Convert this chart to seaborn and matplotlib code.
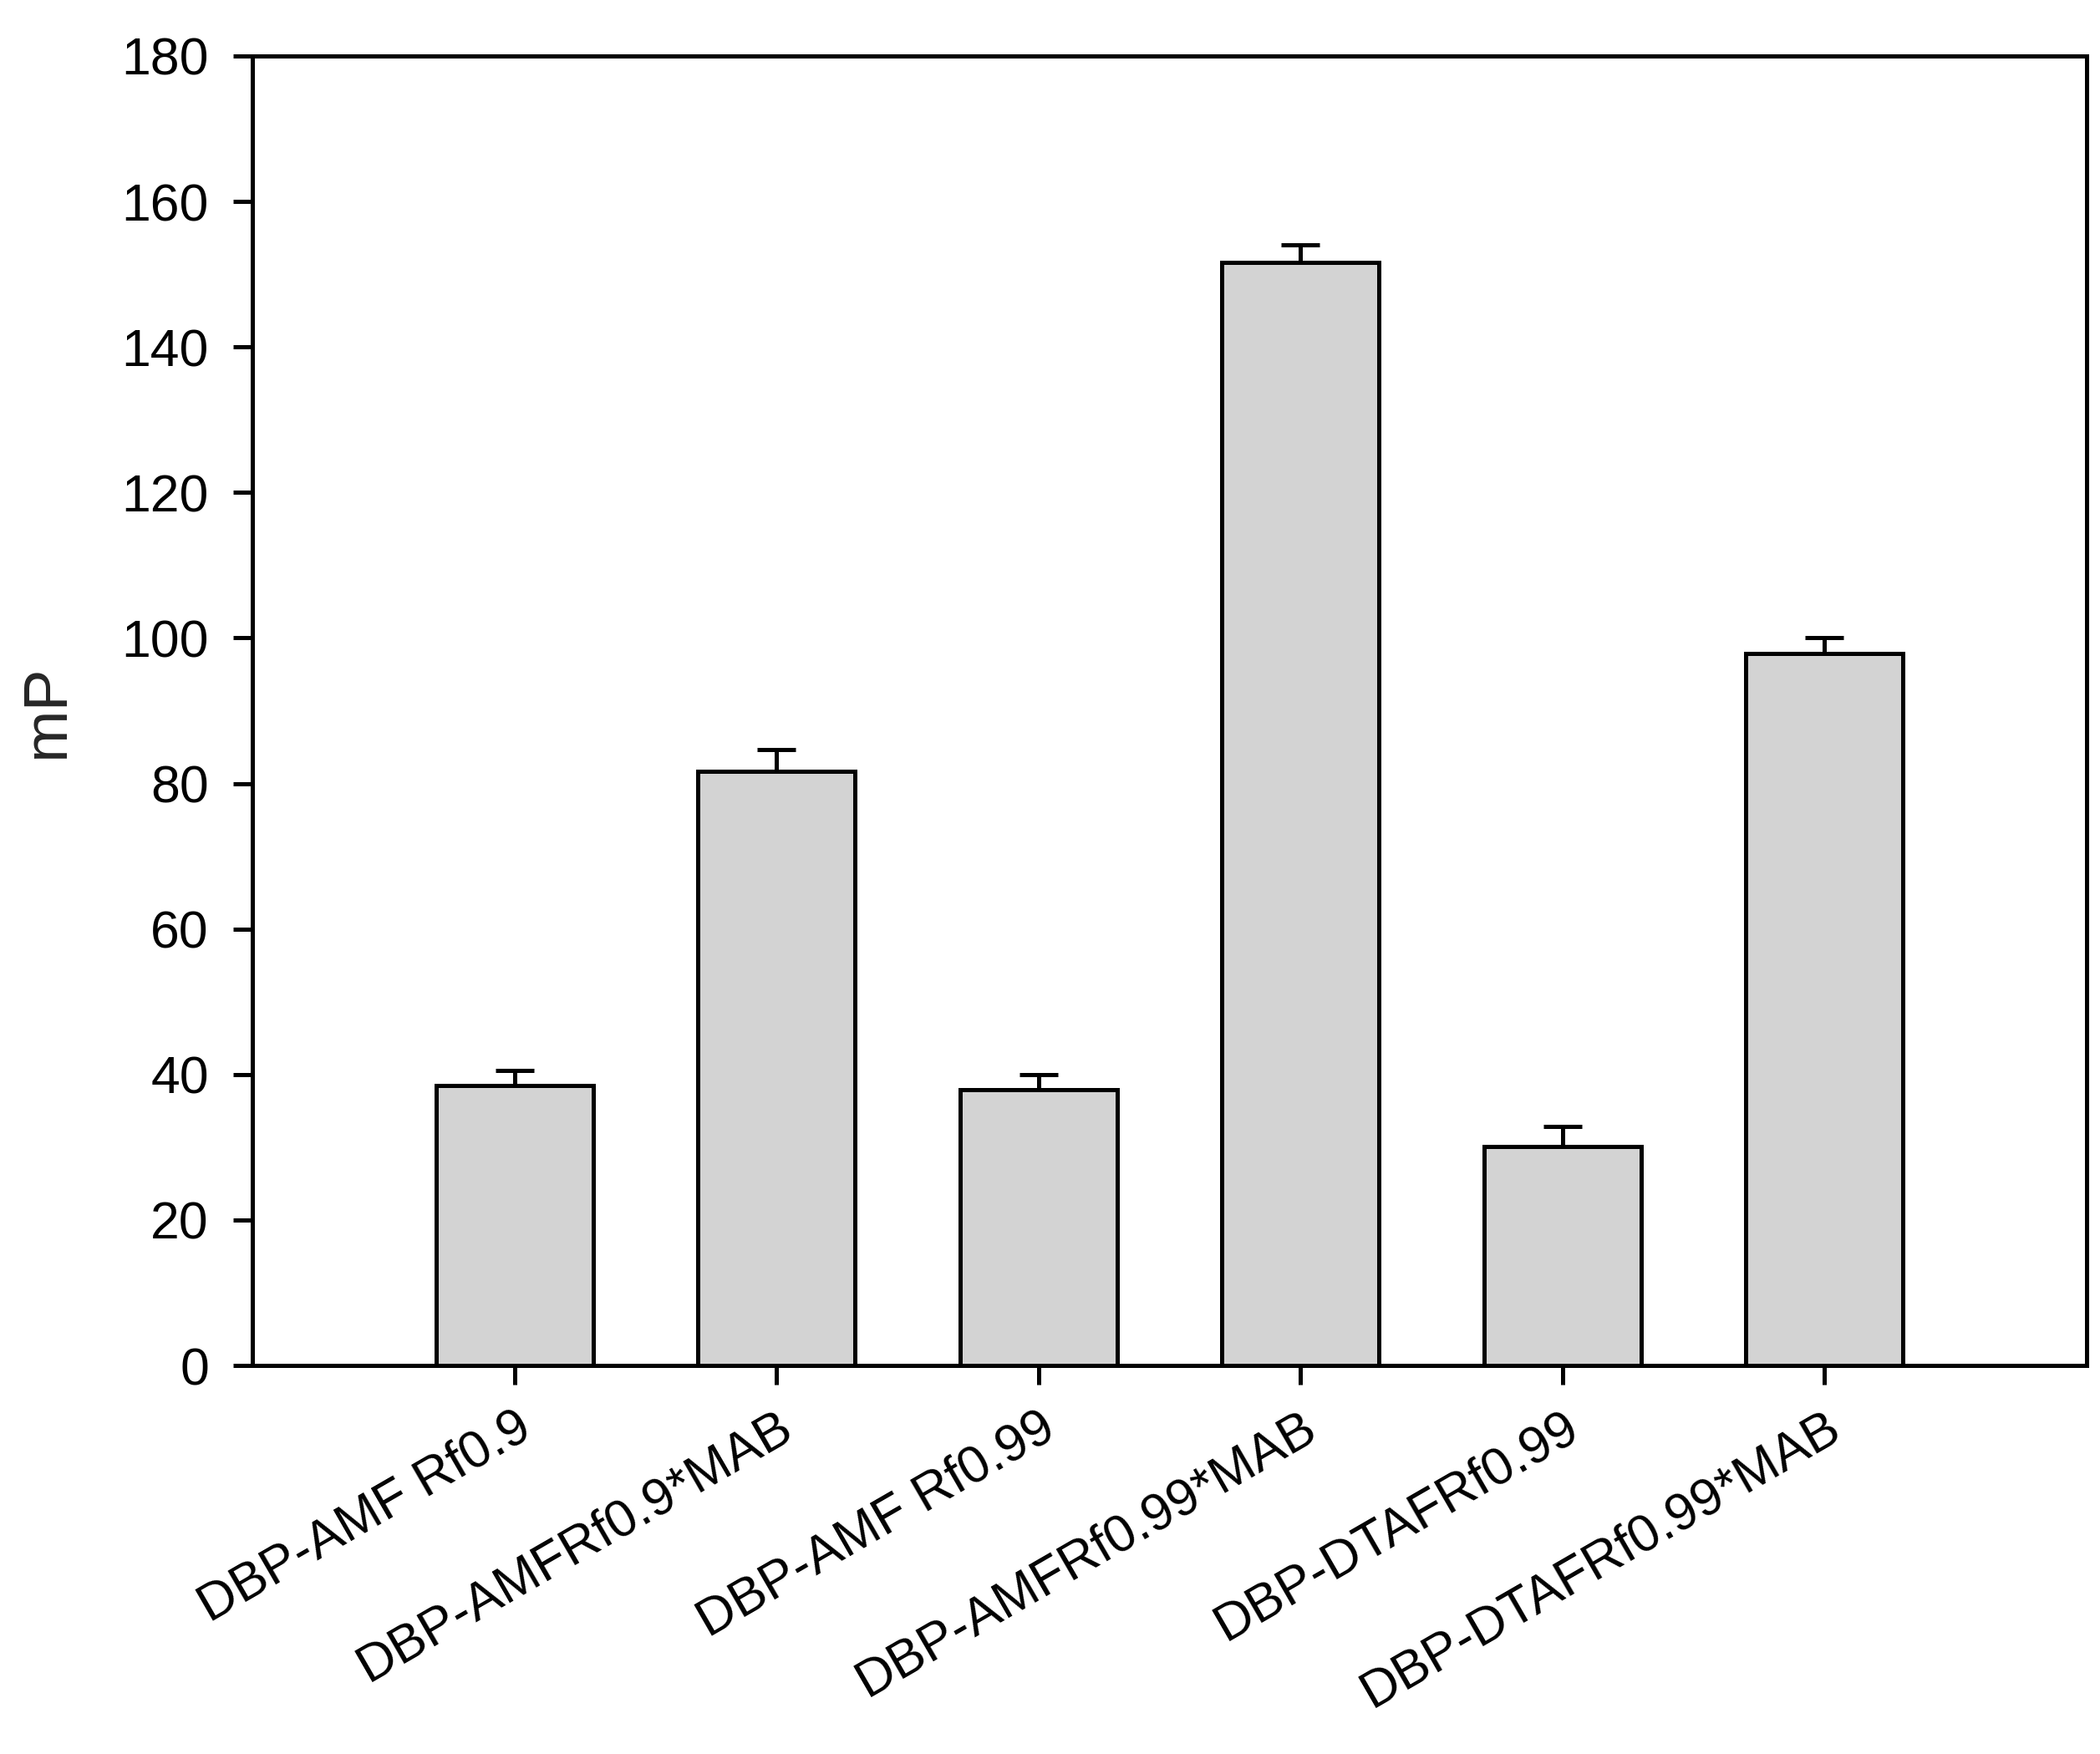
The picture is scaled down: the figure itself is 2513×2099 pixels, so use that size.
import numpy as np
import pandas as pd
import matplotlib
matplotlib.use("Agg")
import matplotlib.pyplot as plt
import seaborn as sns

# ---------------------------------------------------------------------------
# Data
# ---------------------------------------------------------------------------
categories = ["DBP-AMF Rf0.9", "DBP-AMFRf0.9*MAB", "DBP-AMF Rf0.99",
              "DBP-AMFRf0.99*MAB", "DBP-DTAFRf0.99", "DBP-DTAFRf0.99*MAB"]
mp_values = [38.5, 81.7, 37.9, 151.6, 30.1, 97.9]
mp_errors = [2.0, 3.0, 2.1, 2.4, 2.8, 2.1]
y_ticks = list(range(0, 181, 20))

sns.set_style("ticks")
plt.rcParams["font.family"] = ["Liberation Sans", "DejaVu Sans"]

df = pd.DataFrame({"group": categories, "mP": mp_values})

LW = 1.2
fig = plt.figure(figsize=(2513 / 300, 2099 / 300), dpi=300)
ax = fig.add_axes([0.1202, 0.2215, 0.8734, 0.7466])

sns.barplot(data=df, x="group", y="mP", color="#d3d3d3", saturation=1,
            width=0.6, edgecolor="black", linewidth=LW, errorbar=None, ax=ax)

# upper error bars only, centred on the drawn bars
centers = [p.get_x() + p.get_width() / 2 for p in ax.patches]
ax.errorbar(centers, mp_values, yerr=[np.zeros(len(mp_errors)), mp_errors],
            fmt="none", ecolor="black", elinewidth=LW, capsize=5.5,
            capthick=LW, zorder=0.5)

ax.set_xlim(-1, 6)
ax.set_ylim(0, 180)
ax.set_yticks(y_ticks)
ax.set_xlabel("")
ax.set_ylabel("mP", fontsize=18)
ax.yaxis.set_label_coords(-0.096, 0.5)

ax.set_xticks(range(len(categories)))
ax.set_xticklabels(categories, rotation=30, ha="right", va="top",
                   rotation_mode="anchor")

for s in ax.spines.values():
    s.set_linewidth(LW)
    s.set_color("black")
ax.tick_params(axis="both", direction="out", length=5.5, width=LW,
               labelsize=15, colors="black")
ax.tick_params(axis="y", pad=7)
ax.tick_params(axis="x", pad=5)

fig.savefig("out.png", dpi=300)
plt.close(fig)
